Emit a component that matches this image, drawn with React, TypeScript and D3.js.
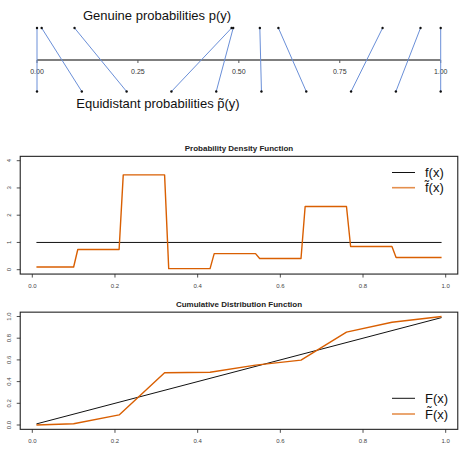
import React from 'react';
import * as d3 from 'd3';

// genuine probabilities (top row) and the equidistant ones they map to (bottom row)
const genuineP = [0, 0.0116, 0.093, 0.482, 0.486, 0.552, 0.598, 0.856, 0.95, 1.0];
const equidistantP = [0, 0.111, 0.222, 0.333, 0.444, 0.556, 0.667, 0.778, 0.889, 1.0];
const topTicks = [0, 0.25, 0.5, 0.75, 1];
const topTickLabels = ['0.00', '0.25', '0.50', '0.75', '1.00'];

// density: one plateau per bin
const binStart = [0.01, 0.11, 0.22, 0.33, 0.44, 0.55, 0.66, 0.77, 0.88];
const binEnd = [0.1, 0.21, 0.32, 0.43, 0.54, 0.65, 0.76, 0.87, 0.99];
const binDensity = [0.1, 0.74, 3.48, 0.04, 0.59, 0.41, 2.32, 0.85, 0.45];
const uniformX = [0.01, 0.99];
const uniformDensity = [1, 1];

// cumulative distribution
const cdfX = [0.01, 0.1, 0.21, 0.32, 0.43, 0.54, 0.65, 0.76, 0.87, 0.99];
const cdfEmp = [0, 0.012, 0.093, 0.482, 0.486, 0.552, 0.598, 0.856, 0.947, 1.0];
const cdfTrueX = [0.01, 0.99];
const cdfTrueY = [0.01, 0.99];

const xTicks = [0, 0.2, 0.4, 0.6, 0.8, 1];
const pdfYTicks = [0, 1, 2, 3, 4];
const cdfYTicks = [0, 0.2, 0.4, 0.6, 0.8, 1];

const ORANGE = '#d95f02';
const BLUE = '#6a8fd8';
const FONT = '"Liberation Sans", Arial, sans-serif';

type Pt = [number, number];

const x = d3.scaleLinear().domain([0, 1]).range([32.3, 445.7]);

function Panel({ y, yTicks, yFmt, title, black, orange, labels, legendY }: {
  y: d3.ScaleLinear<number, number>; yTicks: number[]; yFmt: (v: number) => string;
  title: string; black: Pt[]; orange: Pt[]; labels: string[]; legendY: number[];
}) {
  const [y0, y1] = y.domain();
  const ext = (y1 - y0) * 0.04;
  const left = x(0.01 - 0.0392), right = x(0.99 + 0.0392);
  const top = y(y1 + ext), bottom = y(y0 - ext);
  const line = d3.line<Pt>().x(d => x(d[0])).y(d => y(d[1]));
  return (
    <g>
      <text x={(left + right) / 2} y={top - 5} fontSize={8} fontWeight="bold" textAnchor="middle" fill="#222">{title}</text>
      <path d={line(black) ?? ''} fill="none" stroke="#111" strokeWidth={1} />
      <path d={line(orange) ?? ''} fill="none" stroke={ORANGE} strokeWidth={1.4} strokeLinejoin="round" />
      <rect x={left} y={top} width={right - left} height={bottom - top} fill="none" stroke="#222" strokeWidth={1.1} />
      {xTicks.map(t => (
        <g key={t}>
          <line x1={x(t)} x2={x(t)} y1={bottom} y2={bottom + 3.5} stroke="#222" strokeWidth={0.8} />
          <text x={x(t)} y={bottom + 13.5} fontSize={6} textAnchor="middle" fill="#444">{t.toFixed(1)}</text>
        </g>
      ))}
      {yTicks.map(t => (
        <g key={t}>
          <line x1={left} x2={left - 3.5} y1={y(t)} y2={y(t)} stroke="#222" strokeWidth={0.8} />
          <text transform={`translate(${left - 9},${y(t)}) rotate(-90)`} fontSize={6} textAnchor="middle" fill="#444">{yFmt(t)}</text>
        </g>
      ))}
      {labels.map((lab, i) => (
        <g key={lab}>
          <line x1={392} x2={415} y1={legendY[i]} y2={legendY[i]} stroke={i === 0 ? '#111' : ORANGE} strokeOpacity={i === 0 ? 1 : 0.7} strokeWidth={i === 0 ? 1 : 1.6} />
          <text x={425} y={legendY[i] + 4.5} fontSize={13} fill="#111">{lab}</text>
        </g>
      ))}
    </g>
  );
}

export default function App() {
  const tx = d3.scaleLinear().domain([0, 1]).range([37, 440.7]);
  const axisY = 60, topY = 28, botY = 91.5;

  const pdfY = d3.scaleLinear().domain([0, 4]).range([269.7, 160.7]);
  const cdfY = d3.scaleLinear().domain([0, 1]).range([425, 316.5]);

  const pdfOrange: Pt[] = binStart.flatMap((s, i) => [[s, binDensity[i]], [binEnd[i], binDensity[i]]] as Pt[]);
  const pdfBlack: Pt[] = uniformX.map((v, i) => [v, uniformDensity[i]]);
  const cdfOrange: Pt[] = cdfX.map((v, i) => [v, cdfEmp[i]]);
  const cdfBlack: Pt[] = cdfTrueX.map((v, i) => [v, cdfTrueY[i]]);

  return (
    <svg width={464} height={450} style={{ position: 'absolute', left: 0, top: 0, background: '#fff' }} fontFamily={FONT}>
      {/* top: mapping of genuine to equidistant probabilities */}
      <text x={157} y={20} fontSize={13} textAnchor="middle" fill="#111">Genuine probabilities p(y)</text>
      <line x1={tx(0)} x2={tx(1)} y1={axisY} y2={axisY} stroke="#555" strokeWidth={1.6} />
      {topTicks.map((t, i) => (
        <g key={t}>
          <line x1={tx(t)} x2={tx(t)} y1={axisY} y2={axisY + 3} stroke="#555" strokeWidth={1} />
          <text x={tx(t)} y={axisY + 14} fontSize={7} textAnchor="middle" fill="#333">{topTickLabels[i]}</text>
        </g>
      ))}
      {genuineP.map((p, i) => (
        <line key={'l' + i} x1={tx(p)} y1={topY} x2={tx(equidistantP[i])} y2={botY} stroke={BLUE} strokeWidth={1} />
      ))}
      {genuineP.map((p, i) => <circle key={'g' + i} cx={tx(p)} cy={topY} r={1.2} fill="#111" />)}
      {equidistantP.map((p, i) => <circle key={'e' + i} cx={tx(p)} cy={botY} r={1.2} fill="#111" />)}
      <text x={158} y={108} fontSize={13} textAnchor="middle" fill="#111">Equidistant probabilities p{'\u0303'}(y)</text>

      <Panel y={pdfY} yTicks={pdfYTicks} yFmt={v => String(v)} title="Probability Density Function"
        black={pdfBlack} orange={pdfOrange} labels={['f(x)', 'f\u0303(x)']} legendY={[172.5, 187.7]} />
      <Panel y={cdfY} yTicks={cdfYTicks} yFmt={v => v.toFixed(1)} title="Cumulative Distribution Function"
        black={cdfBlack} orange={cdfOrange} labels={['F(x)', 'F\u0303(x)']} legendY={[398.3, 414]} />
    </svg>
  );
}
